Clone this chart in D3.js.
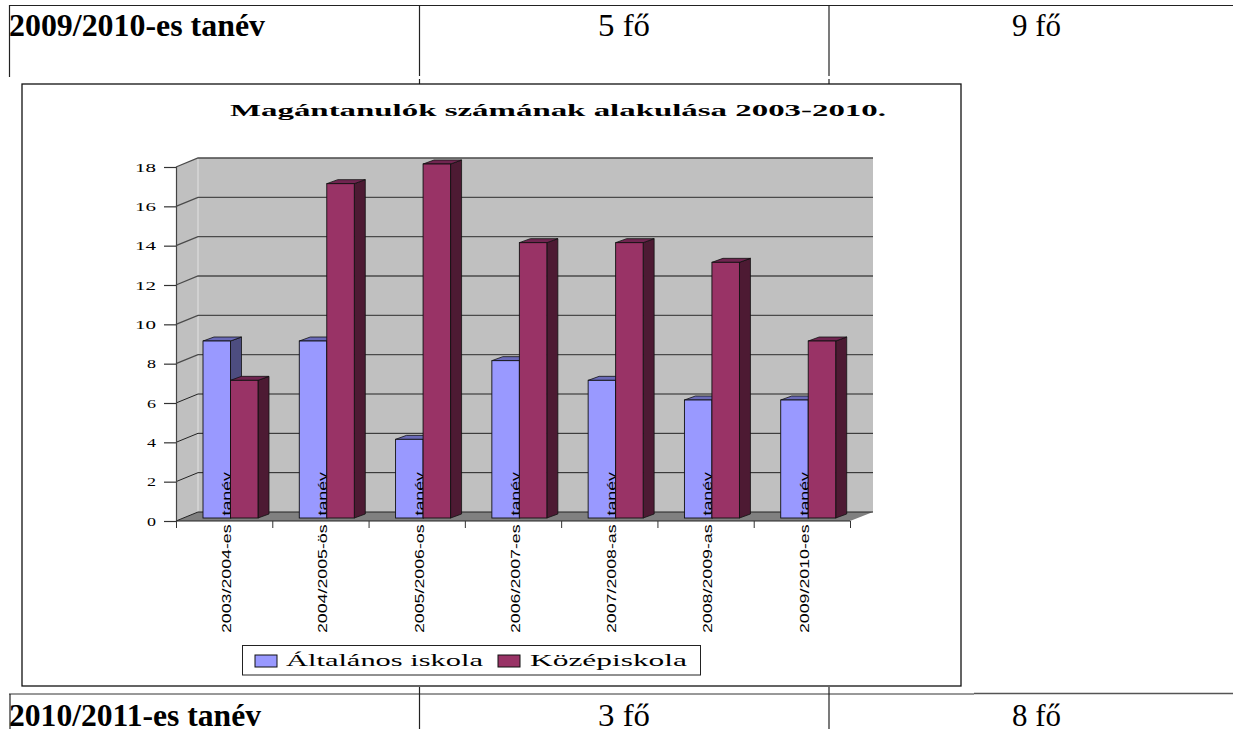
<!DOCTYPE html>
<html>
<head>
<meta charset="utf-8">
<script src="https://cdn.jsdelivr.net/npm/d3@7"></script>
<style>
  html, body { margin: 0; padding: 0; background: #fff; }
  svg { display: block; }
  text { fill: #000; }
</style>
</head>
<body>
<svg id="chart" width="1233" height="729"></svg>
<script>
const categories = ['2003/2004-es tanév', '2004/2005-ös tanév', '2005/2006-os tanév', '2006/2007-es tanév',
  '2007/2008-as tanév', '2008/2009-as tanév', '2009/2010-es tanév'];
const seriesNames = ['Általános iskola', 'Középiskola'];
const altalanos = [9, 9, 4, 8, 7, 6, 6];
const kozep = [7, 17, 18, 14, 14, 13, 9];
const yTicks = [0, 2, 4, 6, 8, 10, 12, 14, 16, 18];
const title = 'Magántanulók számának alakulása 2003-2010.';

const serif = '"Liberation Serif", "Times New Roman", serif';
const sans = '"Liberation Sans", Arial, sans-serif';

const colors = {
  [seriesNames[0]]: { front: '#9999ff', top: '#6a6ab8', side: '#4d4d80' },
  [seriesNames[1]]: { front: '#993366', top: '#702550', side: '#4d1a33' }
};

const svg = d3.select('#chart');

// plot geometry
const plotLeft = 176, plotRight = 850, plotBase = 521, plotTop = 167;
const wallDx = 22, wallDy = -9;
const barDy = -3, barDepthX = 11, barDepthY = -4;

const y = d3.scaleLinear().domain([0, 18]).range([plotBase, plotTop]);
const x0 = d3.scaleBand().domain(categories).range([plotLeft, plotRight]);
const x1 = d3.scaleBand().domain(seriesNames).range([27, 82]);
const edges = d3.scaleLinear().domain([0, categories.length]).range([plotLeft, plotRight]);

/*
 * table pieces around the chart
 */
function hline(xa, xb, yy, w, c) {
  svg.append('line').attr('x1', xa).attr('x2', xb).attr('y1', yy).attr('y2', yy)
    .attr('stroke', c || '#222').attr('stroke-width', w || 1);
}
function vline(xx, ya, yb, w, c) {
  svg.append('line').attr('x1', xx).attr('x2', xx).attr('y1', ya).attr('y2', yb)
    .attr('stroke', c || '#222').attr('stroke-width', w || 1);
}
function cell(str, xx, yy, len, bold) {
  svg.append('text').attr('x', xx).attr('y', yy)
    .attr('font-family', serif).attr('font-size', 31)
    .attr('font-weight', bold ? 'bold' : 'normal')
    .attr('textLength', len).attr('lengthAdjust', 'spacingAndGlyphs')
    .text(str);
}

hline(9, 1233, 5.5, 1.2);
vline(9.5, 5, 77, 1.2);
vline(419.5, 5, 76, 1.2);
vline(419.5, 79, 84, 1.2);
vline(829, 5, 76, 1.2);
vline(829, 79, 84, 1.2);
cell('2009/2010-es tanév', 9, 36, 256, true);
cell('5 fő', 598, 36, 52, false);
cell('9 fő', 1012, 36, 49, false);

hline(9, 974, 694, 1, '#333');
hline(974, 1233, 693.5, 1.6, '#555');
vline(10, 694, 729, 1.2);
vline(419.5, 687, 729, 1.2);
vline(829, 687, 729, 1.2);
cell('2010/2011-es tanév', 9, 726, 252, true);
cell('3 fő', 598, 726, 52, false);
cell('8 fő', 1012, 726, 49, false);

// chart frame
svg.append('rect').attr('x', 22).attr('y', 84).attr('width', 939).attr('height', 602)
  .attr('fill', '#fff').attr('stroke', '#111').attr('stroke-width', 1.3);

svg.append('text').attr('x', 230).attr('y', 116)
  .attr('font-family', serif).attr('font-size', 17).attr('font-weight', 'bold')
  .attr('textLength', 656).attr('lengthAdjust', 'spacingAndGlyphs')
  .text(title);

/*
 * walls and floor
 */
const walls = svg.append('g').attr('class', 'walls');
const poly = d3.line();

walls.append('path')
  .attr('d', poly([[plotLeft, y(0)], [plotLeft + wallDx, y(0) + wallDy], [plotLeft + wallDx, y(18) + wallDy], [plotLeft, y(18)]]) + 'Z')
  .attr('fill', '#c0c0c0');
walls.append('path')
  .attr('d', poly([[plotLeft + wallDx, y(0) + wallDy], [plotRight + wallDx + 1, y(0) + wallDy], [plotRight + wallDx + 1, y(18) + wallDy], [plotLeft + wallDx, y(18) + wallDy]]) + 'Z')
  .attr('fill', '#c0c0c0');
walls.append('path')
  .attr('d', poly([[plotLeft, y(0)], [plotRight, y(0)], [plotRight + wallDx + 1, y(0) + wallDy], [plotLeft + wallDx, y(0) + wallDy]]) + 'Z')
  .attr('fill', '#808080');
walls.append('line')
  .attr('x1', plotLeft + wallDx).attr('x2', plotLeft + wallDx)
  .attr('y1', y(0) + wallDy).attr('y2', y(18) + wallDy)
  .attr('stroke', '#e2e2e2');

// grid on side wall and back wall
walls.selectAll('path.grid')
  .data(yTicks)
  .enter()
  .append('path')
  .attr('class', 'grid')
  .attr('d', function (d) {
    return poly([[plotLeft, y(d)], [plotLeft + wallDx, y(d) + wallDy], [plotRight + wallDx + 1, y(d) + wallDy]]);
  })
  .attr('fill', 'none')
  .attr('stroke', function (d) { return d > 6 ? '#4a4a4a' : '#222'; })
  .attr('stroke-width', function (d) { return d > 6 ? 1.3 : 1; });

/*
 * axes
 */
let axisY = d3.axisLeft(y).tickValues(yTicks).tickSize(12).tickPadding(8);
let gy = svg.append('g').attr('class', 'axis-y').attr('transform', 'translate(' + plotLeft + ',0)').call(axisY);
gy.select('.domain').attr('stroke', '#444').attr('stroke-width', 1.2);
gy.selectAll('.tick line').attr('stroke', '#333').attr('stroke-width', 1.2);
gy.selectAll('.tick text')
  .attr('font-family', serif).attr('font-size', 13.5)
  .attr('textLength', function (d) { return d > 9 ? 21 : 9; })
  .attr('lengthAdjust', 'spacingAndGlyphs');

let axisX = d3.axisBottom(edges).tickValues(d3.range(categories.length + 1)).tickSize(7).tickFormat('');
let gx = svg.append('g').attr('class', 'axis-x').attr('transform', 'translate(0,' + plotBase + ')').call(axisX);
gx.select('.domain').attr('stroke', '#222').attr('d', 'M' + plotLeft + ',0H' + plotRight);
gx.selectAll('.tick line').attr('stroke', '#333');

/*
 * bars, one group per school year. The year label sits between the two bars
 * so the light bar shows it and the dark bar cuts it off.
 */
const groups = svg.append('g').attr('class', 'bars').selectAll('g')
  .data(categories)
  .enter()
  .append('g')
  .attr('transform', function (d) { return 'translate(' + x0(d) + ',0)'; });

function drawBar(g, name, value) {
  const c = colors[name];
  const xa = x1(name), xb = xa + x1.bandwidth();
  const yt = y(value) + barDy, yb = y(0) + barDy;

  g.append('path')
    .attr('d', poly([[xb, yt], [xb + barDepthX, yt + barDepthY], [xb + barDepthX, yb + barDepthY], [xb, yb]]) + 'Z')
    .attr('fill', c.side).attr('stroke', '#111').attr('stroke-width', 0.8);
  g.append('path')
    .attr('d', poly([[xa, yt], [xa + barDepthX, yt + barDepthY], [xb + barDepthX, yt + barDepthY], [xb, yt]]) + 'Z')
    .attr('fill', c.top).attr('stroke', '#111').attr('stroke-width', 0.8);
  g.append('rect')
    .attr('x', xa).attr('y', yt).attr('width', xb - xa).attr('height', yb - yt)
    .attr('fill', c.front).attr('stroke', '#111').attr('stroke-width', 0.9);
}

groups.each(function (d, i) {
  const g = d3.select(this);
  drawBar(g, seriesNames[0], altalanos[i]);
  g.append('text')
    .attr('transform', 'translate(55,633) rotate(-90)')
    .attr('font-family', sans).attr('font-size', 13)
    .attr('fill', '#111')
    .attr('word-spacing', 3)
    .attr('textLength', 161).attr('lengthAdjust', 'spacingAndGlyphs')
    .text(d);
  drawBar(g, seriesNames[1], kozep[i]);
});

/*
 * legend
 */
const legendX = [255, 498], legendTextX = [286, 530], legendTextLen = [197, 157];
svg.append('rect').attr('x', 242.5).attr('y', 645.5).attr('width', 458).attr('height', 29.5)
  .attr('fill', '#fff').attr('stroke', '#222');

seriesNames.forEach(function (name, i) {
  svg.append('rect').attr('x', legendX[i]).attr('y', 655).attr('width', 22).attr('height', 12)
    .attr('fill', colors[name].front).attr('stroke', '#111');
  svg.append('text').attr('x', legendTextX[i]).attr('y', 666)
    .attr('font-family', serif).attr('font-size', 17.5)
    .attr('textLength', legendTextLen[i]).attr('lengthAdjust', 'spacingAndGlyphs')
    .text(name);
});
</script>
</body>
</html>
